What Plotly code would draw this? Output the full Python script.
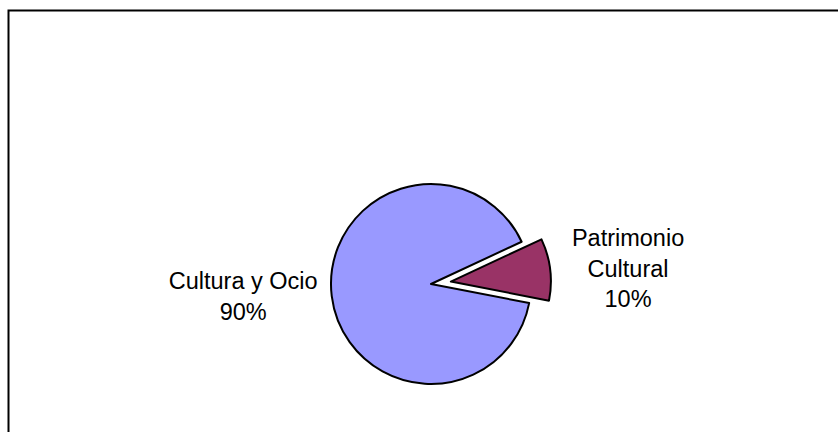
import plotly.graph_objects as go

labels = ["Patrimonio<br>Cultural", "Cultura y Ocio"]
values = [10, 90]
colors = ["#993366", "#9999FF"]
pulls = [0.2, 0]

W, H = 838, 432
cx, cy, r = 431, 284, 100
half = r * (1 + max(pulls))

fig = go.Figure(go.Pie(
    labels=labels,
    values=values,
    sort=False,
    direction="clockwise",
    rotation=65,
    pull=pulls,
    marker=dict(colors=colors, line=dict(color="black", width=2)),
    textinfo="label+percent",
    texttemplate="%{label}<br>%{percent:.0%}",
    textposition="outside",
    textfont=dict(family="Arial, Liberation Sans, sans-serif", size=23.5, color="black"),
    hoverinfo="skip",
    domain=dict(x=[(cx - half) / W, (cx + half) / W],
                y=[1 - (cy + half) / H, 1 - (cy - half) / H]),
))

fig.update_layout(
    width=W, height=H,
    margin=dict(l=0, r=0, t=0, b=0),
    paper_bgcolor="white",
    plot_bgcolor="white",
    showlegend=False,
    shapes=[dict(type="rect", xref="paper", yref="paper",
                 x0=8.5 / W, x1=1.02, y0=-0.05, y1=1 - 10.5 / H,
                 line=dict(color="black", width=2), fillcolor="rgba(0,0,0,0)")],
)

fig.write_html("out.html")
